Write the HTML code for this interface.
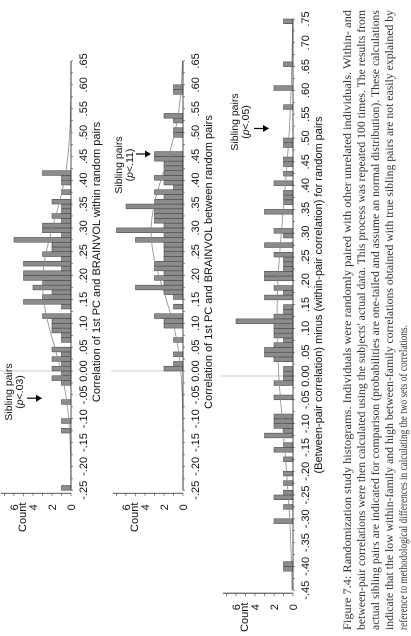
<!DOCTYPE html>
<html><head><meta charset="utf-8">
<style>
html,body{margin:0;padding:0;background:#fff;}
body{width:411px;height:636px;overflow:hidden;position:relative;}
#fig{position:absolute;left:0;top:0;width:636px;height:411px;transform-origin:0 0;transform:translate(0,636px) rotate(-90deg);}
svg text{font-family:"Liberation Sans",sans-serif;}
.cap{font-family:"Liberation Serif",serif;font-size:11.5px;font-weight:normal;fill:#333;}
</style></head>
<body>
<div id="fig">
<svg id="svg" width="636" height="411" viewBox="0 0 636 411" xmlns="http://www.w3.org/2000/svg">
<g id="charts"></g>
<g>
<text class="cap" x="6" y="351" textLength="620" lengthAdjust="spacingAndGlyphs">Figure 7.4: Randomization study histograms. Individuals were randomly paired with other unrelated individuals. Within- and</text>
<text class="cap" x="6" y="365" textLength="620" lengthAdjust="spacingAndGlyphs">between-pair correlations were then calculated using the subjects' actual data. This process was repeated 100 times. The results from</text>
<text class="cap" x="6" y="379" textLength="620" lengthAdjust="spacingAndGlyphs">actual sibling pairs are indicated for comparison (probabilities are one-tailed and assume an normal distribution). These calculations</text>
<text class="cap" x="6" y="393" textLength="620" lengthAdjust="spacingAndGlyphs">indicate that the low within-family and high between-family correlations obtained with true sibling pairs are not easily explained by</text>
<text class="cap" x="6" y="407" textLength="305" lengthAdjust="spacingAndGlyphs">reference to methodological differences in calculating the two sets of correlations.</text>
</g>
</svg>
</div>
<script>
// ---- data ----
const bins1 = [-0.25,-0.13,-0.11,-0.07,-0.03,-0.02,-0.01,0.00,0.01,0.02,0.03,0.04,0.06,0.07,0.08,0.09,0.10,0.11,0.13,0.14,0.15,0.16,0.17,0.18,0.19,0.20,0.21,0.22,0.23,0.24,0.25,0.26,0.27,0.28,0.29,0.30,0.31,0.32,0.33,0.34,0.35,0.37,0.39,0.40,0.41];
const counts1 = [1,1,1,1,1,2,1,2,1,2,1,2,1,1,2,2,2,3,1,5,3,2,4,3,5,5,1,5,1,3,2,2,6,1,3,3,1,2,1,1,2,1,1,1,3];
const bins2 = [0.00,0.01,0.03,0.06,0.09,0.10,0.11,0.13,0.15,0.16,0.17,0.18,0.19,0.20,0.21,0.22,0.23,0.24,0.25,0.26,0.27,0.28,0.29,0.30,0.31,0.32,0.33,0.34,0.35,0.36,0.37,0.38,0.39,0.40,0.41,0.42,0.43,0.44,0.45,0.49,0.50,0.52,0.53,0.58,0.59];
const counts2 = [2,1,1,1,2,2,3,1,1,2,5,2,3,2,3,3,2,2,2,2,5,2,7,2,3,3,3,6,3,2,3,1,2,3,2,2,2,3,3,1,1,1,2,1,1];
const bins3 = [-0.41,-0.40,-0.31,-0.28,-0.26,-0.25,-0.23,-0.21,-0.18,-0.16,-0.15,-0.13,-0.12,-0.11,-0.10,-0.09,-0.05,-0.02,-0.01,0.00,0.01,0.03,0.04,0.05,0.06,0.07,0.08,0.09,0.10,0.11,0.12,0.13,0.14,0.16,0.17,0.18,0.20,0.21,0.22,0.23,0.24,0.25,0.27,0.29,0.30,0.34,0.36,0.37,0.38,0.40,0.42,0.44,0.45,0.48,0.49,0.56,0.60,0.65,0.74];
const counts3 = [1,1,2,1,2,1,1,1,1,2,1,3,1,2,2,2,2,2,1,1,1,2,3,3,2,1,2,2,2,6,2,1,1,3,1,2,3,3,1,1,1,2,3,1,2,3,1,1,1,2,1,1,1,1,1,1,2,1,1];
const ticks1 = ["-.25","-.20","-.15","-.10","-.05","0.00",".05",".10",".15",".20",".25",".30",".35",".40",".45",".50",".55",".60",".65"];
const ticks3 = ["-.45","-.40","-.35","-.30","-.25","-.20","-.15","-.10","-.05","0.00",".05",".10",".15",".20",".25",".30",".35",".40",".45",".50",".55",".60",".65",".70",".75"];
const countTicks = [0,2,4,6];

const NS = "http://www.w3.org/2000/svg";
const root = document.getElementById('charts');
function mk(tag, attrs, parent){
  const e = document.createElementNS(NS, tag);
  for (const k in attrs) e.setAttribute(k, attrs[k]);
  (parent||root).appendChild(e);
  return e;
}

function chart(cfg){
  const g = mk('g', {});
  
  
  const U = v => cfg.u0 + cfg.k * v;
  const V = c => cfg.base - 9.5 * c;
  const lo = cfg.min, hi = cfg.max;
  const zl = mk('line', {x1:U(0), x2:U(0), y1:cfg.base, y2:cfg.base-72, stroke:'#c9cfbd', 'stroke-width':1}, g);
  
  
  cfg.bins.forEach((b, i) => {
    const c = cfg.counts[i];
    const r = mk('rect', {x:U(b), y:V(c), width:U(b+0.01)-U(b), height:V(0)-V(c), fill:'#8c8c8c', stroke:'#3a3a3a', 'stroke-width':0.5}, g);
    
    
  });
  let n=0, s=0, s2=0;
  cfg.bins.forEach((b,i)=>{const m=b+0.005; n+=cfg.counts[i]; s+=cfg.counts[i]*m; s2+=cfg.counts[i]*m*m;});
  const mu = s/n, sd = Math.sqrt(s2/n - mu*mu);
  let d = '';
  for (let x = lo; x <= hi + 1e-9; x += 0.005){
    const c = n*0.01*Math.exp(-0.5*((x-mu)/sd)**2)/(sd*Math.sqrt(2*Math.PI));
    d += (d?'L':'M') + U(x).toFixed(1) + ',' + V(c).toFixed(1);
  }
  const curve = mk('path', {d:d, fill:'none', stroke:'#8a8a8a', 'stroke-width':0.8}, g);
  
  
  const xa = mk('line', {x1:U(lo), x2:U(hi), y1:cfg.base, y2:cfg.base, stroke:'#222', 'stroke-width':0.8}, g);
  
  
  for (let x = lo; x <= hi + 1e-9; x += 0.025){
    mk('line', {x1:U(x), x2:U(x), y1:cfg.base, y2:cfg.base+2, stroke:'#444', 'stroke-width':0.6}, g);
  }
  cfg.ticks.forEach((t, i) => {
    const tx = mk('text', {x:U(lo + i*0.05), y:cfg.base+16, 'font-size':11, 'text-anchor':'middle', fill:'#111'}, g);
    tx.textContent = t;
    
    
  });
  const tt = mk('text', {x:cfg.titleU, y:cfg.base+29, 'font-size':11, 'text-anchor':'middle', fill:'#111'}, g);
  tt.textContent = cfg.title;
  
  
  const ax = U(lo) - 3;
  const ya = mk('line', {x1:ax, x2:ax, y1:cfg.base, y2:cfg.base-70, stroke:'#222', 'stroke-width':0.8}, g);
  
  
  for (let c = 0; c <= 7; c++){
    mk('line', {x1:ax-3, x2:ax, y1:V(c), y2:V(c), stroke:'#444', 'stroke-width':0.6}, g);
  }
  countTicks.forEach(c => {
    const tx = mk('text', {x:ax-14, y:V(c)+4, 'font-size':11, 'text-anchor':'middle', fill:'#111'}, g);
    tx.textContent = String(c);
    
    
  });
  const yt = mk('text', {x:ax-24, y:cfg.base-45, 'font-size':11, 'text-anchor':'middle', fill:'#111'}, g);
  yt.textContent = 'Count';
  
  
  const a1 = mk('text', {x:cfg.annU, y:cfg.annV, 'font-size':10.5, 'text-anchor':'middle', fill:'#111'}, g);
  a1.textContent = 'Sibling pairs';
  
  
  const a2 = mk('text', {x:cfg.annU, y:cfg.annV+11, 'font-size':10.5, 'text-anchor':'middle', fill:'#111'}, g);
  a2.innerHTML = '(<tspan font-style="italic">p</tspan>&lt;' + cfg.p + ')';
  
  
  const au = U(cfg.arrowVal);
  const al = mk('line', {x1:au, x2:au, y1:cfg.arrowV, y2:cfg.arrowV+10, stroke:'#000', 'stroke-width':1.2}, g);
  
  
  const ah = mk('polygon', {points:(au-3.5)+','+(cfg.arrowV+9)+' '+(au+3.5)+','+(cfg.arrowV+9)+' '+au+','+(cfg.arrowV+15), fill:'#000'}, g);
  
  
}

chart({name:'within-pairs-histogram', bins:bins1, counts:counts1, ticks:ticks1, min:-0.25, max:0.65, u0:265, k:477, base:71,
  title:'Correlation of 1st PC and BRAINVOL within random pairs', titleU:374, annU:244, annV:12, p:'.03', arrowVal:-0.057, arrowV:27});
chart({name:'between-pairs-histogram', bins:bins2, counts:counts2, ticks:ticks1, min:-0.25, max:0.65, u0:265, k:477, base:183,
  title:'Correlation of 1st PC and BRAINVOL between random pairs', titleU:374, annU:471, annV:122, p:'.11', arrowVal:0.455, arrowV:136});
chart({name:'difference-histogram', bins:bins3, counts:counts3, ticks:ticks3, min:-0.45, max:0.75, u0:260, k:476, base:293,
  title:'(Between-pair correlation) minus (within-pair correlation) for random pairs', titleU:341, annU:514, annV:238, p:'.05', arrowVal:0.52, arrowV:254});
</script>
</body></html>
